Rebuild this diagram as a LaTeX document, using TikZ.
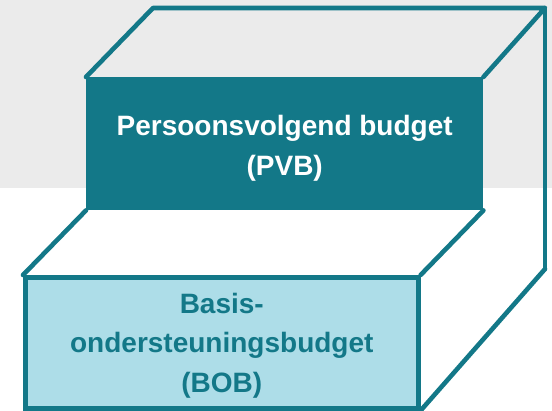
\documentclass[tikz,border=0pt]{standalone}
\usepackage{fontspec}
\setmainfont{Liberation Sans}
\definecolor{tealdark}{HTML}{137888}
\definecolor{lightblue}{HTML}{ADDDE8}
\definecolor{bggray}{HTML}{EBEBEB}
\begin{document}
\begin{tikzpicture}[x=1pt,y=-1pt,
  edge/.style={draw=tealdark,line width=4.6pt,line join=round,line cap=round},
  boxtext/.style={font=\bfseries\fontsize{28}{39.5}\selectfont,align=center,inner sep=0pt}]
\useasboundingbox (0,0) rectangle (552,410);
\fill[bggray] (0,0) rectangle (552,188);
\coordinate (tl) at (153,8);
\coordinate (tr) at (545,8);
\coordinate (rb) at (545,269);
\node[fill=tealdark,inner sep=0pt,minimum width=397pt,minimum height=133pt,anchor=north west] (pvb) at (86,77) {};
\node[boxtext,text=white] (pvbtext) at ([yshift=-4.5pt]pvb.center) {Persoonsvolgend budget\\(PVB)};
\draw[edge] (pvb.north west) -- (tl) -- (tr) -- (pvb.north east);
\draw[edge] (tr) -- (rb);
\node[draw=tealdark,line width=4.6pt,fill=lightblue,inner sep=0pt,minimum width=393pt,minimum height=131pt,anchor=north west] (bob) at (23,275) {};
\node[boxtext,text=tealdark] (bobtext) at ([yshift=-2.5pt]bob.center) {Basis-\\ondersteuningsbudget\\(BOB)};
\draw[edge] (rb) -- (bob.south east);
\draw[edge] (pvb.south west) -- (bob.north west);
\draw[edge] (pvb.south east) -- (bob.north east);
\end{tikzpicture}
\end{document}
